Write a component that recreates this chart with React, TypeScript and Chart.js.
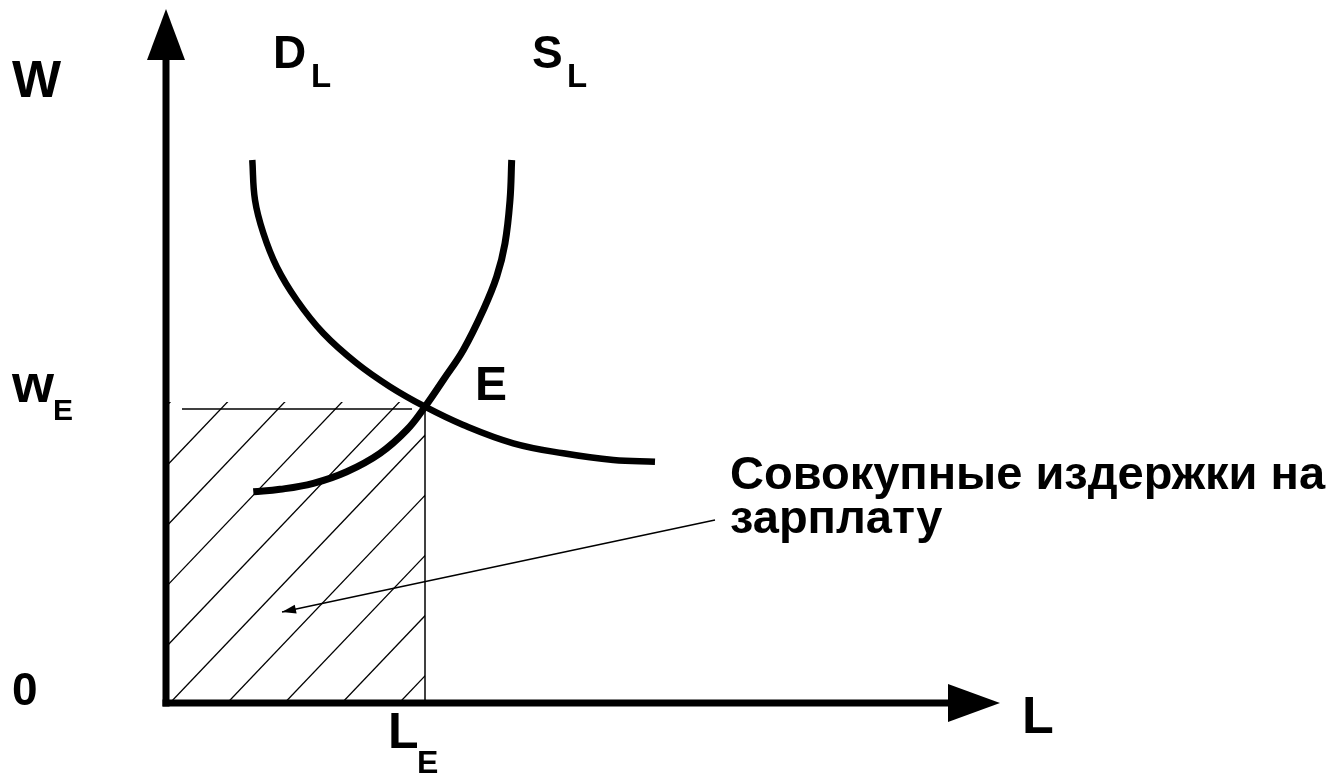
import React, { useEffect, useRef } from "react";
import { Chart, registerables } from "chart.js";

Chart.register(...registerables);

// Demand for labour D_L (L, w)
const demandL = [8.63, 8.9, 9.73, 11.07, 13.07, 15.73, 19.07, 22.4, 25.9, 29.73, 34.73, 39.73, 44.73, 48.9];
const demandW = [54.3, 50.3, 47.0, 43.63, 40.3, 36.97, 33.97, 31.63, 29.63, 27.8, 25.97, 24.97, 24.3, 24.13];
// Supply of labour S_L (L, w)
const supplyL = [8.73, 11.4, 14.73, 18.07, 21.4, 24.07, 25.9, 27.73, 29.73, 31.73, 33.07, 33.9, 34.4, 34.57];
const supplyW = [21.13, 21.37, 21.97, 23.13, 24.97, 27.3, 29.63, 32.3, 35.3, 39.3, 42.63, 45.97, 50.3, 54.3];
// Equilibrium
const eqL = [25.9];
const eqW = [29.6];
// Text labels
const axisLabels = ["W", "L", "0"];
const curveLabels = ["D", "S"];
const subLabel = ["L", "E"];
const equilibriumLabel = ["E"];
const noteLines = ["Совокупные издержки на", "зарплату"];

const X_MIN = -16.6;
const X_MAX = 117.7;
const Y_MIN = -7.9;
const Y_MAX = 70.3;

const FONT = '"Liberation Sans", Arial, sans-serif';

const drawingPlugin = {
  id: "diagram",
  beforeDatasetsDraw(chart: any) {
    const ctx = chart.ctx as CanvasRenderingContext2D;
    const sx = chart.scales.x;
    const sy = chart.scales.y;
    const px = (v: number) => sx.getPixelForValue(v);
    const py = (v: number) => sy.getPixelForValue(v);
    const L = eqL[0];
    const W = eqW[0];
    ctx.save();
    // hatch area
    const left = px(0);
    const right = px(L);
    const top = py(W + 0.5);
    const bottom = py(0);
    ctx.beginPath();
    ctx.rect(left, top, right - left, bottom - top);
    ctx.clip();
    ctx.strokeStyle = "#000";
    ctx.lineWidth = 1.3;
    const slope = 1.05;
    const step = px(5.73) - px(0);
    for (let k = -8; k <= 8; k++) {
      const c = px(0.4) + k * step;
      ctx.beginPath();
      ctx.moveTo(c, bottom);
      ctx.lineTo(c + 400, bottom - 400 * slope);
      ctx.stroke();
    }
    ctx.restore();

    ctx.save();
    ctx.strokeStyle = "#000";
    ctx.lineWidth = 1.5;
    // horizontal w_E line
    ctx.beginPath();
    ctx.moveTo(px(1.6), py(W - 0.2));
    ctx.lineTo(px(L - 1.3), py(W - 0.2));
    ctx.stroke();
    // vertical L_E line
    ctx.beginPath();
    ctx.moveTo(px(L), py(W));
    ctx.lineTo(px(L), py(0));
    ctx.stroke();
    ctx.restore();
  },
  afterDatasetsDraw(chart: any) {
    const ctx = chart.ctx as CanvasRenderingContext2D;
    const sx = chart.scales.x;
    const sy = chart.scales.y;
    const px = (v: number) => sx.getPixelForValue(v);
    const py = (v: number) => sy.getPixelForValue(v);
    ctx.save();
    ctx.fillStyle = "#000";
    ctx.strokeStyle = "#000";
    // axes
    const ox = px(0);
    const oy = py(0);
    ctx.lineWidth = 7;
    ctx.lineCap = "butt";
    ctx.beginPath();
    ctx.moveTo(ox, oy + 3.5);
    ctx.lineTo(ox, py(64.3));
    ctx.stroke();
    ctx.beginPath();
    ctx.moveTo(ox - 3.5, oy);
    ctx.lineTo(px(78.2), oy);
    ctx.stroke();
    // arrow heads
    ctx.beginPath();
    ctx.moveTo(ox, py(69.4));
    ctx.lineTo(ox - 19, py(64.3));
    ctx.lineTo(ox + 19, py(64.3));
    ctx.closePath();
    ctx.fill();
    ctx.beginPath();
    ctx.moveTo(px(83.4), oy);
    ctx.lineTo(px(78.2), oy - 19);
    ctx.lineTo(px(78.2), oy + 19);
    ctx.closePath();
    ctx.fill();

    // pointer arrow
    const ax0 = px(54.9), ay0 = py(18.3);
    const ax1 = px(11.6), ay1 = py(9.1);
    ctx.lineWidth = 1.5;
    ctx.beginPath();
    ctx.moveTo(ax0, ay0);
    ctx.lineTo(ax1, ay1);
    ctx.stroke();
    const ang = Math.atan2(ay1 - ay0, ax1 - ax0);
    const hl = 14, hw = 4.5;
    ctx.beginPath();
    ctx.moveTo(ax1, ay1);
    ctx.lineTo(ax1 - hl * Math.cos(ang) + hw * Math.sin(ang), ay1 - hl * Math.sin(ang) - hw * Math.cos(ang));
    ctx.lineTo(ax1 - hl * Math.cos(ang) - hw * Math.sin(ang), ay1 - hl * Math.sin(ang) + hw * Math.cos(ang));
    ctx.closePath();
    ctx.fill();

    // texts
    ctx.textBaseline = "alphabetic";
    ctx.textAlign = "left";
    const txt = (s: string, x: number, y: number, size: number) => {
      ctx.font = `bold ${size}px ${FONT}`;
      ctx.fillText(s, px(x), py(y));
    };
    txt(axisLabels[0], -15.4, 60.6, 52);
    txt(curveLabels[0], 10.7, 63.5, 46);
    txt(subLabel[0], 14.5, 61.6, 33);
    txt(curveLabels[1], 36.6, 63.5, 46);
    txt(subLabel[0], 40.1, 61.6, 33);
    txt("w", -15.4, 30.1, 54);
    txt(subLabel[1], -11.3, 28.3, 30);
    txt(equilibriumLabel[0], 30.9, 30.3, 48);
    txt(axisLabels[2], -15.4, -0.2, 46);
    txt(axisLabels[1], 85.6, -3.0, 52);
    txt(subLabel[0], 22.2, -4.5, 50);
    txt(subLabel[1], 25.1, -7.0, 32);
    txt(noteLines[0], 56.4, 21.4, 47);
    txt(noteLines[1], 56.4, 17.0, 47);
    ctx.restore();
  },
};

export default function App() {
  const ref = useRef<HTMLCanvasElement | null>(null);
  useEffect(() => {
    document.body.style.margin = "0";
    document.body.style.overflow = "hidden";
    const canvas = ref.current;
    if (!canvas) return;
    const chart = new Chart(canvas, {
      type: "line",
      data: {
        datasets: [
          {
            label: "D_L",
            data: demandL.map((x, i) => ({ x, y: demandW[i] })),
            borderColor: "#000",
            borderWidth: 6.5,
            pointRadius: 0,
            tension: 0.4,
            fill: false,
          },
          {
            label: "S_L",
            data: supplyL.map((x, i) => ({ x, y: supplyW[i] })),
            borderColor: "#000",
            borderWidth: 7,
            pointRadius: 0,
            tension: 0.4,
            fill: false,
          },
        ],
      },
      options: {
        animation: false,
        responsive: false,
        maintainAspectRatio: false,
        layout: { padding: 0 },
        plugins: { legend: { display: false }, tooltip: { enabled: false } },
        scales: {
          x: { type: "linear", min: X_MIN, max: X_MAX, display: false },
          y: { type: "linear", min: Y_MIN, max: Y_MAX, display: false },
        },
      },
      plugins: [drawingPlugin],
    });
    return () => chart.destroy();
  }, []);
  return (
    <div style={{ width: 1343, height: 782, background: "#fff" }}>
      <canvas ref={ref} width={1343} height={782} />
    </div>
  );
}
